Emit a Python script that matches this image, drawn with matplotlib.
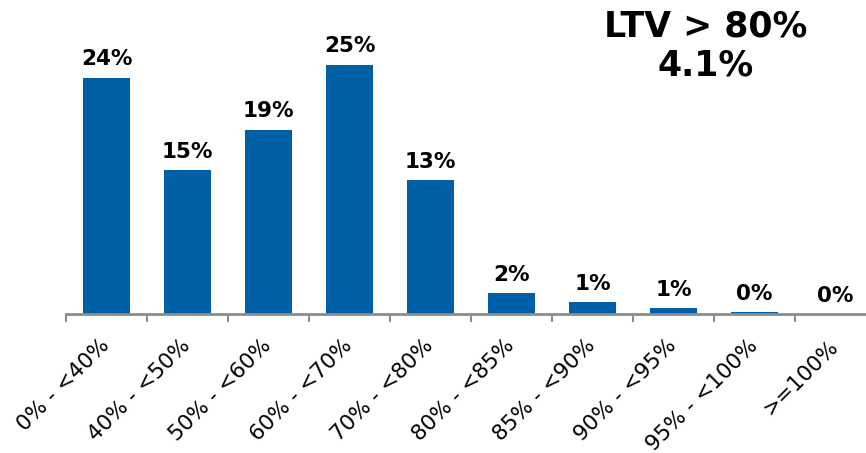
import numpy as np
import matplotlib.pyplot as plt
import matplotlib.transforms as mtransforms

# LTV buckets and share of balances (%)
categories = ['0% - <40%', '40% - <50%', '50% - <60%', '60% - <70%', '70% - <80%',
              '80% - <85%', '85% - <90%', '90% - <95%', '95% - <100%', '>=100%']
shares = [23.7, 14.4, 18.5, 25.0, 13.4, 2.1, 1.2, 0.6, 0.2, 0.0]
labels = ['24%', '15%', '19%', '25%', '13%', '2%', '1%', '1%', '0%', '0%']
headline = 'LTV > 80%\n4.1%'

fig = plt.figure(figsize=(8.66, 4.53), dpi=100)
ax = fig.add_axes([66/866, (453-314)/453, 810/866, 314/453])

x = np.arange(len(categories))
ax.bar(x, shares, width=0.57, color='#005FA7')

for xi, v, lab in zip(x, shares, labels):
    ax.annotate(lab, (xi, v), xytext=(0, 6), textcoords='offset points',
                ha='center', va='bottom', fontsize=15.5, fontweight='bold')

ax.set_xlim(-0.5, 9.5)
ax.set_ylim(0, 31.5)

# category labels at centres, tick marks at boundaries
ax.set_xticks(x)
ax.set_xticklabels(categories, rotation=45, ha='right', rotation_mode='anchor', fontsize=15.5)
ax.tick_params(axis='x', which='major', length=0, pad=14)
ax.set_xticks(np.arange(-0.5, 10, 1), minor=True)
ax.tick_params(axis='x', which='minor', length=6, width=1.5, color='#8c8c8c', direction='out')
shift = mtransforms.ScaledTranslation(-7/100, -2/100, fig.dpi_scale_trans)
for t in ax.get_xticklabels():
    t.set_transform(t.get_transform() + shift)

ax.set_yticks([])
for s in ['top', 'right', 'left']:
    ax.spines[s].set_visible(False)
ax.spines['bottom'].set_color('#8c8c8c')
ax.spines['bottom'].set_linewidth(2)

fig.text(706/866, 1 - 46/453, headline, ha='center', va='center',
         fontsize=25, fontweight='bold', linespacing=1.2)

fig.savefig('out.png', dpi=100)
